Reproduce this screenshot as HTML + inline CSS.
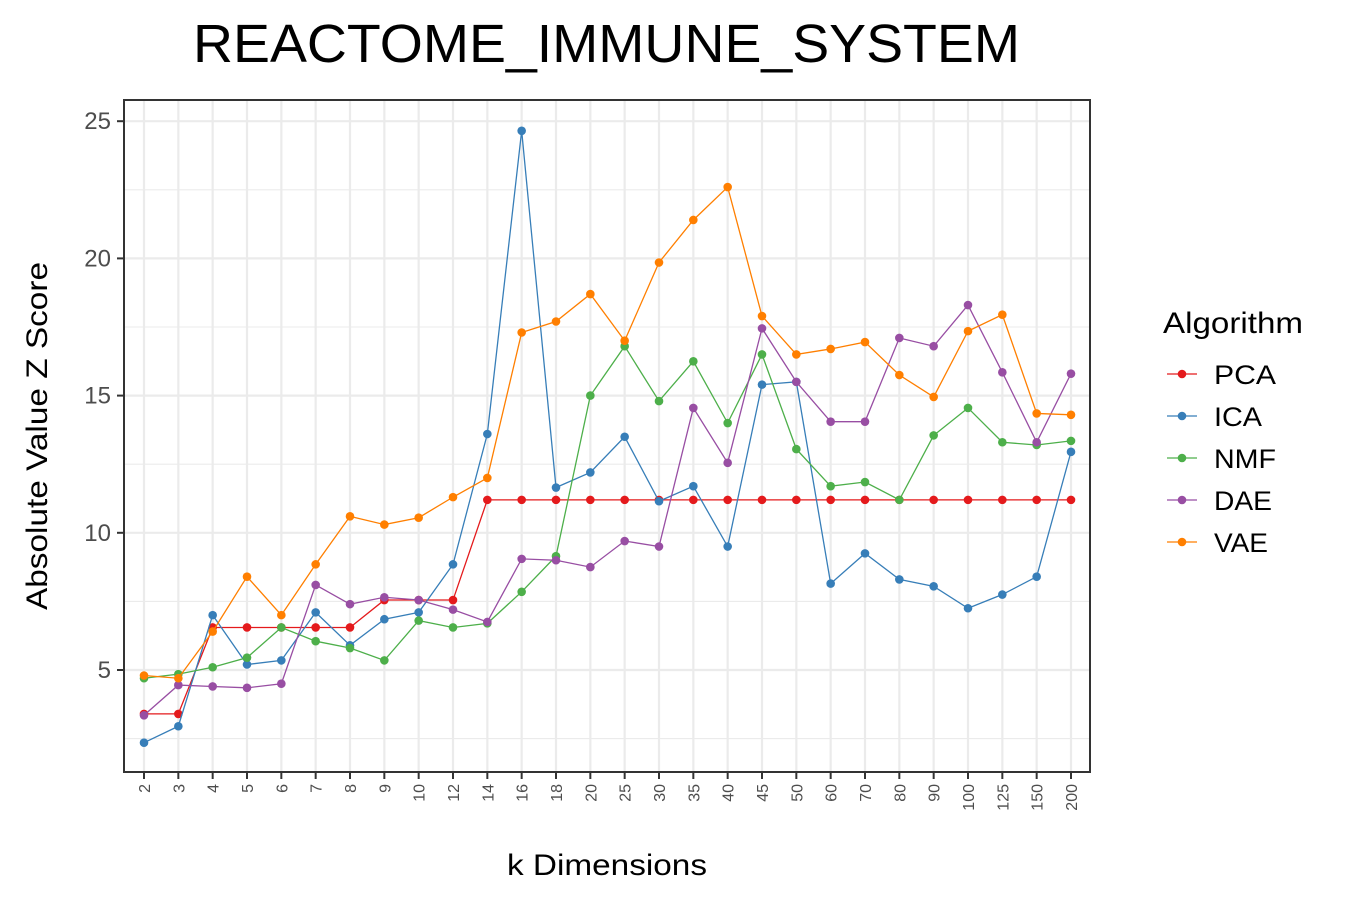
<!DOCTYPE html>
<html><head><meta charset="utf-8"><style>
body{margin:0;background:#fff;font-family:"Liberation Sans",Arial,sans-serif}
</style></head><body>
<svg id="chart" width="1350" height="900" xmlns="http://www.w3.org/2000/svg" font-family="Liberation Sans, Arial, sans-serif"></svg>
<script>
const categories=["2","3","4","5","6","7","8","9","10","12","14","16","18","20","25","30","35","40","45","50","60","70","80","90","100","125","150","200"];
const pcaValues=[3.4,3.4,6.55,6.55,6.55,6.55,6.55,7.55,7.55,7.55,11.2,11.2,11.2,11.2,11.2,11.2,11.2,11.2,11.2,11.2,11.2,11.2,11.2,11.2,11.2,11.2,11.2,11.2];
const icaValues=[2.35,2.95,7.0,5.2,5.35,7.1,5.9,6.85,7.1,8.85,13.6,24.65,11.65,12.2,13.5,11.15,11.7,9.5,15.4,15.5,8.15,9.25,8.3,8.05,7.25,7.75,8.4,12.95];
const nmfValues=[4.7,4.85,5.1,5.45,6.55,6.05,5.8,5.35,6.8,6.55,6.7,7.85,9.15,15.0,16.8,14.8,16.25,14.0,16.5,13.05,11.7,11.85,11.2,13.55,14.55,13.3,13.2,13.35];
const daeValues=[3.35,4.45,4.4,4.35,4.5,8.1,7.4,7.65,7.55,7.2,6.75,9.05,9.0,8.75,9.7,9.5,14.55,12.55,17.45,15.5,14.05,14.05,17.1,16.8,18.3,15.85,13.3,15.8];
const vaeValues=[4.8,4.7,6.4,8.4,7.0,8.85,10.6,10.3,10.55,11.3,12.0,17.3,17.7,18.7,17.0,19.85,21.4,22.6,17.9,16.5,16.7,16.95,15.75,14.95,17.35,17.95,14.35,14.3];
const yTicks=[5,10,15,20,25];
const seriesNames=["PCA","ICA","NMF","DAE","VAE"];
const seriesColors=["#e41a1c","#377eb8","#4daf4a","#984ea3","#ff7f00"];
const seriesData=[pcaValues,icaValues,nmfValues,daeValues,vaeValues];

const svg=document.getElementById('chart');
const NS="http://www.w3.org/2000/svg";
const L=124,R=1090,T=100,B=772;
const x=i=>144+i*(1071-144)/(categories.length-1);
const y=v=>670-(v-5)*27.44;
function mk(tag,attrs,parent){const e=document.createElementNS(NS,tag);for(const k in attrs)e.setAttribute(k,attrs[k]);(parent||svg).appendChild(e);return e;}

const grid=mk('g',{});


for(let v=2.5;v<=25.5;v+=2.5){if(y(v)<T||y(v)>B)continue;const major=v%5===0;
 mk('line',{x1:L,x2:R,y1:y(v),y2:y(v),stroke:'#ebebeb','stroke-width':major?2.2:1.1},grid);}
categories.forEach((c,i)=>mk('line',{x1:x(i),x2:x(i),y1:T,y2:B,stroke:'#ebebeb','stroke-width':2.2},grid));

seriesData.forEach((d,s)=>{
 const g=mk('g',{});
 
 
 mk('polyline',{points:d.map((v,i)=>x(i)+','+y(v)).join(' '),fill:'none',stroke:seriesColors[s],'stroke-width':1.3},g);
 d.forEach((v,i)=>{const c=mk('circle',{cx:x(i),cy:y(v),r:4.3,fill:seriesColors[s]},g);
  
  });
});

const frame=mk('rect',{x:L,y:T,width:R-L,height:B-T,fill:'none',stroke:'#333','stroke-width':2});



yTicks.forEach(v=>{mk('line',{x1:L-7,x2:L,y1:y(v),y2:y(v),stroke:'#333','stroke-width':2});
 const t=mk('text',{x:L-13,y:y(v)+8,'text-anchor':'end','font-size':24,fill:'#4d4d4d'});t.textContent=v;
 
 });
categories.forEach((c,i)=>{mk('line',{x1:x(i),x2:x(i),y1:B,y2:B+7,stroke:'#333','stroke-width':2});
 const t=mk('text',{x:0,y:0,'text-anchor':'end','font-size':16,fill:'#4d4d4d',transform:`translate(${x(i)+6},${B+12}) rotate(-90)`});t.textContent=c;
 
 });

function txt(s,attrs,name){const t=mk('text',attrs);t.textContent=s;return t;}
txt('REACTOME_IMMUNE_SYSTEM',{x:193,y:62,'font-size':54,fill:'#000',textLength:827,lengthAdjust:'spacingAndGlyphs'},'chart-title');
txt('k Dimensions',{x:507,y:875,'font-size':30,fill:'#000',textLength:200,lengthAdjust:'spacingAndGlyphs'},'x-axis-title');
txt('Absolute Value Z Score',{x:0,y:0,'font-size':30,fill:'#000',textLength:348,lengthAdjust:'spacingAndGlyphs',transform:'translate(47,610) rotate(-90)'},'y-axis-title');
txt('Algorithm',{x:1163,y:333,'font-size':30,fill:'#000',textLength:140,lengthAdjust:'spacingAndGlyphs'},'legend-title');
const lw=[62,48,62,58,54];
seriesNames.forEach((n,s)=>{const cy=374+s*42;
 const g=mk('g',{});
 
 
 mk('line',{x1:1167,x2:1197,y1:cy,y2:cy,stroke:seriesColors[s],'stroke-width':1.3},g);
 mk('circle',{cx:1182,cy:cy,r:4.3,fill:seriesColors[s]},g);
 const t=mk('text',{x:1214,y:cy+10,'font-size':27,fill:'#000',textLength:lw[s],lengthAdjust:'spacingAndGlyphs'},g);t.textContent=n;});
</script>
</body></html>
